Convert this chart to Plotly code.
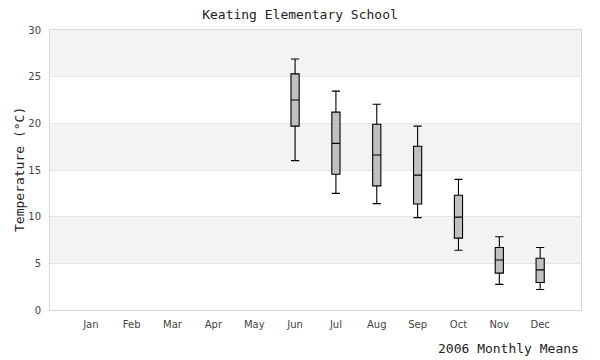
import plotly.graph_objects as go

months = ["Jan", "Feb", "Mar", "Apr", "May", "Jun", "Jul", "Aug", "Sep", "Oct", "Nov", "Dec"]
box_months = ["Jun", "Jul", "Aug", "Sep", "Oct", "Nov", "Dec"]
low = [16.0, 12.5, 11.4, 9.9, 6.4, 2.75, 2.2]
q1 = [19.7, 14.55, 13.3, 11.35, 7.7, 3.95, 2.95]
median = [22.5, 17.85, 16.6, 14.45, 9.95, 5.35, 4.3]
q3 = [25.3, 21.2, 19.9, 17.55, 12.3, 6.7, 5.55]
high = [26.9, 23.45, 22.05, 19.7, 14.0, 7.85, 6.7]
y_ticks = [0, 5, 10, 15, 20, 25, 30]

x_idx = [months.index(m) for m in box_months]

fig = go.Figure()
fig.add_trace(go.Box(
    x=x_idx, q1=q1, median=median, q3=q3, lowerfence=low, upperfence=high,
    width=0.2, whiskerwidth=1, fillcolor="#c0c0c0",
    line=dict(color="black", width=1.1), boxpoints=False, showlegend=False,
    hoverinfo="skip",
))

# alternating bands
shapes = []
for i in range(len(y_ticks) - 1):
    if i % 2 == 1:
        shapes.append(dict(type="rect", xref="paper", yref="y", x0=0, x1=1,
                           y0=y_ticks[i], y1=y_ticks[i + 1],
                           fillcolor="#f3f3f3", line=dict(width=0), layer="below"))

mono = "DejaVu Sans Mono, Liberation Mono, monospace"
tickf = dict(family="DejaVu Sans, Verdana, sans-serif", size=10, color="#444")
fig.update_layout(
    width=600, height=360,
    margin=dict(l=50, r=19, t=30, b=50),
    paper_bgcolor="white", plot_bgcolor="white",
    shapes=shapes,
    title=dict(text="Keating Elementary School", x=0.5, xanchor="center",
               y=1 - 14 / 360, yanchor="middle", yref="container",
               font=dict(family=mono, size=13, color="#222")),
    xaxis=dict(range=[-1, 12], tickmode="array", tickvals=list(range(12)), ticktext=months,
               showgrid=False, zeroline=False, showline=True, mirror=True,
               linecolor="#d8d8d8", linewidth=1, ticks="", ticklabelstandoff=5,
               tickfont=tickf),
    yaxis=dict(range=[0, 30], tickmode="array", tickvals=y_ticks,
               showgrid=True, gridcolor="#e4e4e4", zeroline=False, showline=True, mirror=True,
               linecolor="#d8d8d8", linewidth=1, ticks="", ticklabelstandoff=6,
               tickfont=tickf),
    annotations=[
        dict(text="Temperature (°C)", xref="paper", yref="paper", x=(19 - 50) / 531,
             y=0.5, xanchor="center", yanchor="middle", textangle=-90, showarrow=False,
             font=dict(family=mono, size=13, color="#222")),
        dict(text="2006 Monthly Means", xref="paper", yref="paper", x=1, y=-38 / 280,
             xanchor="right", yanchor="middle", showarrow=False,
             font=dict(family=mono, size=13, color="#222")),
    ],
)

fig.write_html("out.html", config={"displayModeBar": False},
               post_script="document.body.style.margin='0px';document.body.style.padding='0px';")
